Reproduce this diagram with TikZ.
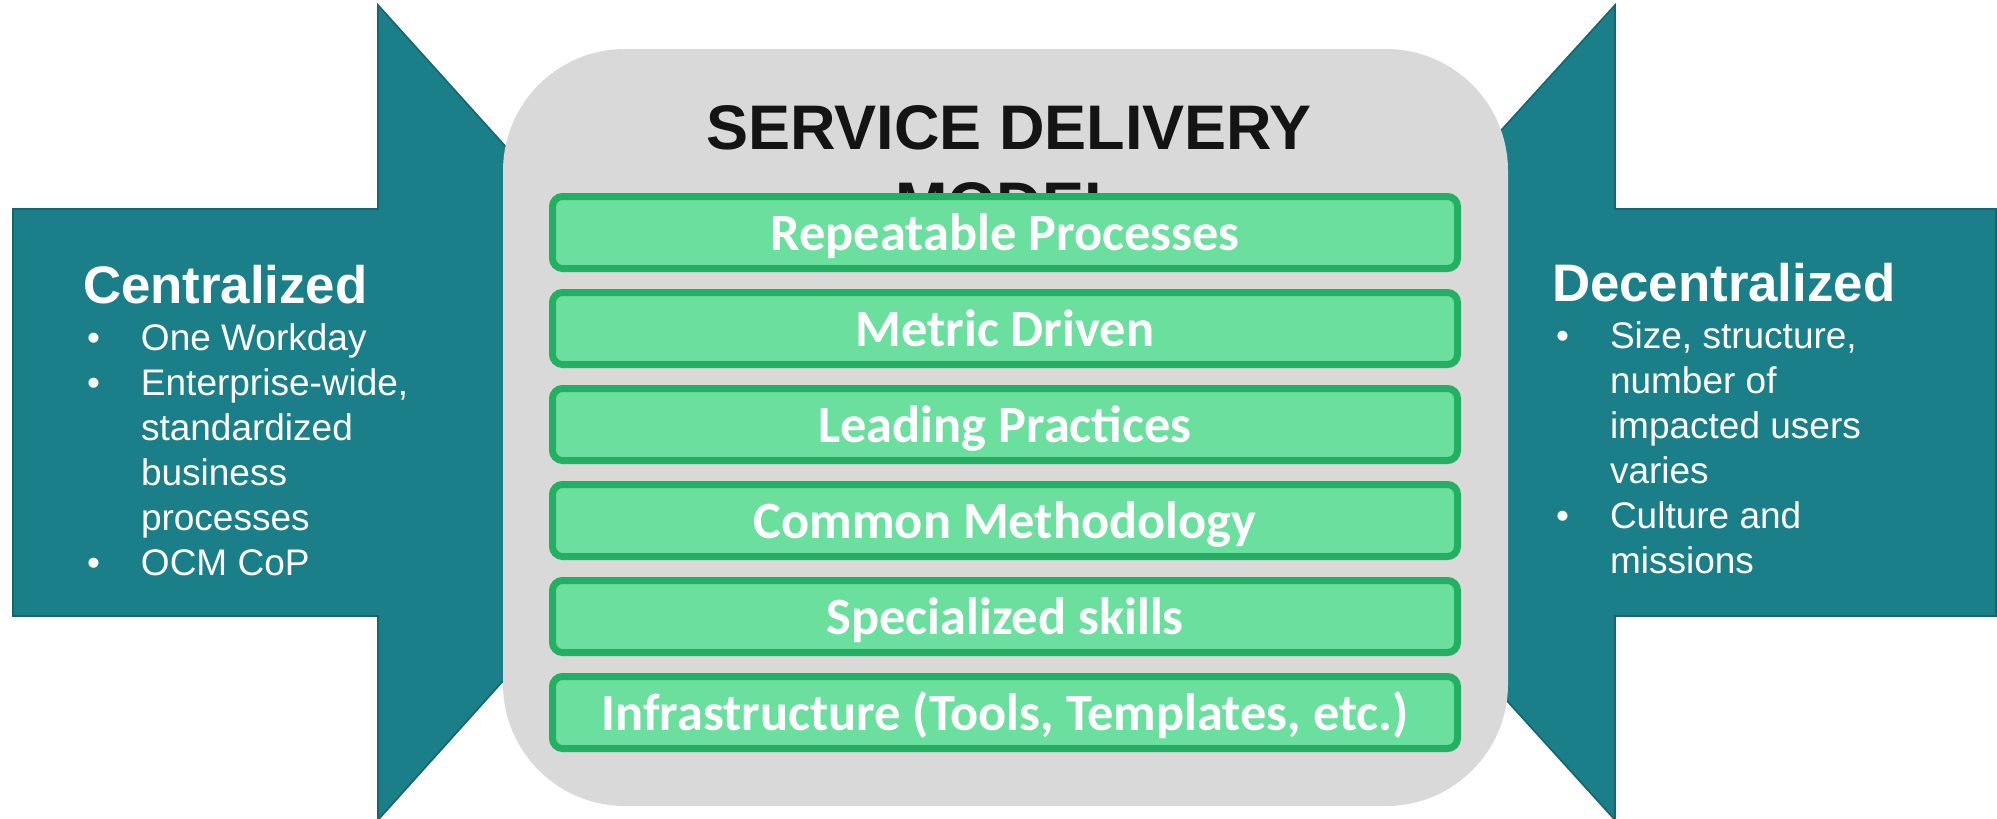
\documentclass[tikz,border=0pt]{standalone}
\usepackage{fontspec}
\setmainfont{Liberation Sans}
\newfontfamily\calfont{Carlito}
\usetikzlibrary{positioning}

\definecolor{arrowteal}{HTML}{1B7F8A}
\definecolor{arrowedge}{HTML}{156570}
\definecolor{modelgray}{HTML}{D9D9D9}
\definecolor{pillfill}{HTML}{6ADF9E}
\definecolor{pilledge}{HTML}{23B062}
\definecolor{titleink}{HTML}{141414}

\newcommand{\headfont}{\bfseries\fontsize{26.4}{22.5}\selectfont}
\newcommand{\bul}{\makebox[29pt][l]{\hspace{2pt}\textbullet}}
\newcommand{\ind}{\hspace*{29pt}}

\begin{document}
\begin{tikzpicture}[x=0.5pt, y=-0.5pt, node distance=12pt,
            every node/.style={inner sep=0pt, outer sep=0pt},
            arrow/.style={fill=arrowteal, draw=arrowedge, line width=0.8pt},
            model/.style={fill=modelgray, rounded corners=61pt,
                minimum width=502.5pt, minimum height=378.5pt},
            pill/.style={draw=pilledge, fill=pillfill, line width=3.5pt, rounded corners=5pt,
                minimum width=452.5pt, minimum height=36pt, text=white,
                font=\calfont\bfseries\fontsize{26.2}{30}\selectfont,
                text height=18.4pt, text depth=0pt},
            side/.style={text=white, align=left, font=\fontsize{18.5}{22.5}\selectfont}]
        \useasboundingbox (0,0) rectangle (1997,819);
        \draw[arrow] (13,209) -- (378,209) -- (378,5) -- (745,412) -- (378,820)
                  -- (378,616) -- (13,616) -- cycle;
        \draw[arrow] (1996,209) -- (1615,209) -- (1615,5) -- (1245,412) -- (1615,820)
                  -- (1615,616) -- (1996,616) -- cycle;
        \node[model] (sdm) at (1005.5,427.5) {};
        \node[anchor=base, align=center, text=titleink,
              font=\bfseries\fontsize{31.5}{38.5}\selectfont] (title) at (1009,226)
              {SERVICE DELIVERY\\MODEL};
        % the six pillars
        \node[pill] (rep) at (1005,232.5) {Repeatable Processes};
        \node[pill, below=of rep] (met) {Metric Driven};
        \node[pill, below=of met] (lead) {Leading Practices};
        \node[pill, below=of lead] (meth) {Common Methodology};
        \node[pill, below=of meth] (skill) {Specialized skills};
        \node[pill, below=of skill] (infra) {Infrastructure (Tools, Templates, etc.)};
        \node[side, anchor=base west] (cen) at (83,575)
              {{\headfont Centralized}\\[1pt]
               \bul One Workday\\
               \bul Enterprise-wide,\\
               \ind standardized\\
               \ind business\\
               \ind processes\\
               \bul OCM CoP};
        \node[side, anchor=base west] (dec) at (1552,573)
              {{\headfont Decentralized}\\[1pt]
               \bul Size, structure,\\
               \ind number of\\
               \ind impacted users\\
               \ind varies\\
               \bul Culture and\\
               \ind missions};
\end{tikzpicture}
\end{document}
